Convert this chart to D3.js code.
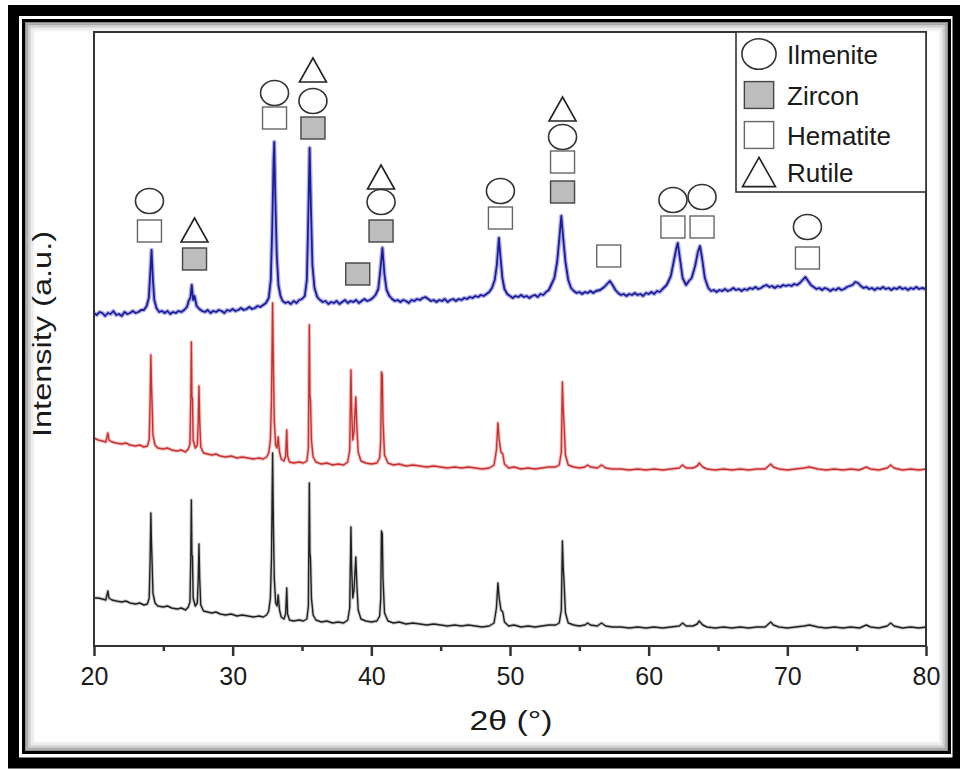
<!DOCTYPE html>
<html>
<head>
<meta charset="UTF-8">
<title>XRD patterns</title>
<script src="https://cdn.jsdelivr.net/npm/d3@7"></script>
<style>
  body { margin: 0; background: #fff; }
  text { font-family: "Liberation Sans", Arial, sans-serif; fill: #1a1a1a; }
</style>
</head>
<body>
<script>
// 2theta sampling + intensities (a.u.)
var blueTheta = [20.0,20.2,20.4,20.6,20.8,21.0,21.2,21.4,21.6,21.8,22.0,22.2,22.4,22.6,22.8,23.0,23.2,23.4,23.6,23.8,23.95,24.05,24.15,24.25,24.35,24.5,24.7,24.9,25.1,25.3,25.5,25.7,25.9,26.1,26.3,26.5,26.7,26.85,26.95,27.05,27.15,27.25,27.4,27.6,27.8,28.0,28.2,28.4,28.6,28.8,29.0,29.2,29.4,29.6,29.8,30.0,30.2,30.4,30.6,30.8,31.0,31.2,31.4,31.6,31.8,32.0,32.2,32.4,32.6,32.75,32.85,32.95,33.0,33.08,33.18,33.3,33.45,33.6,33.8,34.0,34.2,34.4,34.6,34.8,35.0,35.2,35.35,35.45,35.55,35.65,35.75,35.9,36.1,36.3,36.5,36.7,36.9,37.1,37.3,37.5,37.7,37.9,38.1,38.3,38.5,38.7,38.9,39.1,39.3,39.5,39.7,39.9,40.1,40.3,40.5,40.65,40.8,40.95,41.1,41.3,41.5,41.7,41.9,42.1,42.3,42.5,42.7,42.9,43.1,43.3,43.5,43.7,43.9,44.1,44.3,44.5,44.7,44.9,45.1,45.3,45.5,45.7,45.9,46.1,46.3,46.5,46.7,46.9,47.1,47.3,47.5,47.7,47.9,48.1,48.3,48.5,48.7,48.9,49.05,49.2,49.3,49.45,49.6,49.8,50.0,50.2,50.4,50.6,50.8,51.0,51.2,51.4,51.6,51.8,52.0,52.2,52.4,52.6,52.8,53.0,53.2,53.4,53.55,53.7,53.85,54.0,54.2,54.4,54.6,54.8,55.0,55.2,55.4,55.6,55.8,56.0,56.2,56.5,56.8,57.0,57.2,57.4,57.6,57.8,58.0,58.2,58.4,58.6,58.8,59.0,59.2,59.4,59.6,59.8,60.0,60.2,60.4,60.6,60.8,61.0,61.3,61.6,61.8,62.0,62.1,62.25,62.45,62.7,62.9,63.1,63.35,63.55,63.7,63.85,64.05,64.3,64.5,64.7,64.9,65.1,65.3,65.5,65.7,65.9,66.1,66.3,66.5,66.7,66.9,67.1,67.3,67.5,67.7,67.9,68.1,68.3,68.5,68.7,68.9,69.1,69.3,69.5,69.7,69.9,70.1,70.3,70.5,70.7,70.9,71.1,71.3,71.5,71.7,71.9,72.1,72.3,72.5,72.7,72.9,73.1,73.3,73.5,73.7,73.9,74.1,74.3,74.5,74.7,74.9,75.1,75.3,75.5,75.7,75.9,76.1,76.3,76.5,76.7,76.9,77.1,77.3,77.5,77.7,77.9,78.1,78.3,78.5,78.7,78.9,79.1,79.3,79.5,79.7,80.0];
var blueI = [333,331,334,333,330,333,332,335,331,332,330,334,332,333,335,333,334,336,336,340,348,371,396,366,346,338,334,335,333,335,332,334,333,335,334,336,339,346,348,361,346,350,340,337,335,334,336,333,335,334,336,335,333,336,335,337,335,336,338,336,337,339,337,338,340,339,341,343,348,366,416,486,504,446,391,361,350,345,343,344,342,345,343,346,347,350,366,426,498,436,381,358,349,346,344,345,342,344,343,345,342,344,346,343,345,344,346,343,345,347,345,346,348,351,357,376,398,371,356,350,347,345,346,344,346,345,343,346,345,347,346,348,349,347,345,346,344,346,345,347,344,346,347,345,347,346,348,347,349,348,350,349,351,350,352,354,358,366,381,408,391,368,357,352,350,348,350,349,351,349,350,348,350,351,349,352,351,354,356,362,368,384,406,430,406,384,366,358,355,353,354,352,354,353,355,353,355,356,359,362,365,361,356,353,351,352,350,352,351,353,351,352,350,353,352,354,352,355,354,357,361,370,384,398,403,388,368,361,365,368,380,394,400,388,368,358,355,356,354,356,355,357,355,356,358,356,357,355,357,356,358,357,359,357,358,360,361,359,360,358,360,359,361,360,361,360,362,361,363,366,369,365,361,359,357,358,356,358,357,355,357,356,358,356,357,359,360,361,364,363,360,358,359,357,358,356,358,357,359,357,358,356,358,357,359,357,358,356,358,357,359,357,358,357];

var rbTheta = [20.0,20.3,20.6,20.85,20.95,21.0,21.08,21.3,21.6,22.0,22.3,22.6,23.0,23.3,23.6,23.85,23.98,24.05,24.1,24.14,24.18,24.25,24.4,24.6,25.0,25.3,25.6,26.0,26.3,26.6,26.8,26.92,26.98,27.02,27.06,27.1,27.15,27.3,27.45,27.52,27.57,27.62,27.7,27.9,28.2,28.5,28.8,29.1,29.5,29.9,30.3,30.7,31.1,31.5,31.9,32.2,32.45,32.6,32.72,32.8,32.88,32.94,33.0,33.1,33.2,33.28,33.38,33.5,33.7,33.82,33.9,33.96,34.1,34.4,34.8,35.1,35.35,35.46,35.53,35.57,35.61,35.68,35.8,36.0,36.4,36.8,37.2,37.6,38.0,38.3,38.44,38.53,38.58,38.66,38.75,38.88,38.95,39.05,39.25,39.6,40.0,40.4,40.6,40.68,40.73,40.79,40.84,40.95,41.2,41.6,42.0,42.5,43.0,43.5,44.0,44.5,45.0,45.5,46.0,46.5,47.0,47.5,48.0,48.5,48.85,49.02,49.13,49.22,49.35,49.48,49.6,49.9,50.3,50.8,51.3,51.8,52.3,52.8,53.3,53.55,53.7,53.78,53.84,53.9,54.0,54.2,54.6,55.0,55.4,55.6,55.8,56.3,56.6,56.9,57.4,58.0,58.6,59.2,59.8,60.4,61.0,61.6,62.2,62.45,62.7,63.2,63.5,63.65,63.9,64.2,64.8,65.4,66.0,66.6,67.2,67.8,68.4,68.8,69.0,69.4,70.0,70.6,71.2,71.6,72.2,72.8,73.4,74.0,74.6,75.2,75.7,76.0,76.6,77.2,77.45,77.7,78.3,78.9,79.5,80.0];
var redI = [208,206,205,204,210,213,206,204,203,202,203,201,200,201,199,200,206,246,291,263,246,211,201,198,197,198,196,195,196,194,197,202,246,304,249,248,206,198,201,226,260,226,199,193,192,191,192,190,189,190,188,189,188,187,188,187,189,193,206,246,343,276,226,201,198,209,194,187,185,190,216,190,184,183,184,183,185,198,321,251,246,206,189,184,182,183,181,182,181,184,196,276,236,206,214,249,221,194,185,183,182,183,188,206,274,271,226,191,183,181,182,180,181,180,179,180,179,178,179,178,179,178,177,178,181,196,223,206,194,192,182,178,179,177,178,177,178,179,179,181,194,264,236,221,191,181,179,178,179,181,179,178,181,178,177,177,176,177,176,177,176,177,178,181,178,178,180,183,179,177,176,177,176,177,176,177,177,182,179,177,176,177,178,179,177,176,177,176,177,176,179,177,176,178,181,178,176,177,176,177];
var blackI = [48,48,47,46,52,55,48,46,45,44,45,43,42,43,41,42,48,88,133,105,88,53,43,40,39,40,38,37,38,36,39,44,88,146,91,90,48,40,43,68,102,68,41,35,34,33,34,32,31,32,30,31,30,29,30,29,31,35,48,88,193,118,68,43,40,51,36,29,27,32,58,32,26,25,26,25,27,40,163,93,88,48,31,26,24,25,23,24,23,26,38,119,78,48,56,89,63,36,27,25,24,25,30,48,115,112,68,33,25,23,24,22,23,22,21,22,21,20,21,20,21,20,19,20,23,38,63,48,36,34,24,20,21,19,20,19,20,21,21,23,36,105,78,63,33,23,21,20,21,23,21,20,23,20,19,19,18,19,18,19,18,19,20,23,20,20,22,25,21,19,18,19,18,19,18,19,19,24,21,19,18,19,20,21,19,18,19,18,19,18,21,19,18,20,23,20,18,19,18,19];

// phase markers placed above the top pattern
var markerTheta = [24.0,24.0,27.25,27.25,33.02,33.02,35.79,35.79,35.79,39.02,40.7,40.7,40.7,49.31,49.31,53.79,53.79,53.79,53.79,57.12,61.75,61.75,63.85,63.85,71.45,71.45];
var markerI = [445,415,416,387,553,528,576,545,518,372,469,444,415,455,428,537,509,484,454,390,446,419,449,419,419,388];
var markerKind = ["Ilmenite","Hematite","Rutile","Zircon","Ilmenite","Hematite","Rutile","Ilmenite","Zircon","Zircon","Rutile","Ilmenite","Zircon","Ilmenite","Hematite","Rutile","Ilmenite","Hematite","Zircon","Hematite","Ilmenite","Hematite","Ilmenite","Hematite","Ilmenite","Hematite"];

var phases = ["Ilmenite","Zircon","Hematite","Rutile"];
var xTicks = [20,30,40,50,60,70,80];
var xMinor = [25,35,45,55,65,75];

var W = 960, H = 769;
var plot = {left: 94, right: 926, top: 32, bottom: 646};

var svg = d3.select("body").append("svg")
    .attr("width", W)
    .attr("height", H);

// picture frame: thick black border, white gap, thin line, inner shadow
svg.append("rect").attr("x", 13.5).attr("y", 10.5).attr("width", 944.5).attr("height", 752.5)
    .attr("fill", "none").attr("stroke", "#000").attr("stroke-width", 11);
svg.append("rect").attr("x", 23.5).attr("y", 20.5).attr("width", 926).attr("height", 732)
    .attr("fill", "none").attr("stroke", "#000").attr("stroke-width", 3);
var shade = ["#8a8a8a","#a8a8a8","#c4c4c4","#dadada","#ebebeb","#f6f6f6"];
shade.forEach(function(c, i){
  svg.append("rect")
    .attr("x", 25.8 + i*1.6).attr("y", 22.8 + i*1.6)
    .attr("width", 921.4 - i*3.2).attr("height", 727.4 - i*3.2)
    .attr("fill", "none").attr("stroke", c).attr("stroke-width", 1.6);
});

var x = d3.scaleLinear().domain([20, 80]).range([plot.left, plot.right]);
var y = d3.scaleLinear().domain([0, 614]).range([plot.bottom, plot.top]);

var line = d3.line()
    .x(function(d){ return x(d[0]); })
    .y(function(d){ return y(d[1]); });

function pairs(th, vals){ return th.map(function(t, i){ return [t, vals[i]]; }); }

var series = [
  {data: pairs(rbTheta, blackI), halo: "#b8b8b8", color: "#202020", w: 1.4, hw: 3.4},
  {data: pairs(rbTheta, redI), halo: "#f2a0a0", color: "#c63232", w: 1.4, hw: 3.4},
  {data: pairs(blueTheta, blueI), halo: "#8f92dc", color: "#1c1c9a", w: 1.8, hw: 4.4}
];

var g = svg.append("g");
series.forEach(function(s){
  g.append("path").datum(s.data).attr("d", line)
    .attr("fill", "none").attr("stroke", s.halo).attr("stroke-width", s.hw)
    .attr("stroke-opacity", 0.7).attr("stroke-linejoin", "round");
  g.append("path").datum(s.data).attr("d", line)
    .attr("fill", "none").attr("stroke", s.color).attr("stroke-width", s.w)
    .attr("stroke-linejoin", "round");
});

// marker shapes
function drawMarker(sel, kind, cx, cy, s){
  if (kind === "Ilmenite") {
    sel.append("ellipse").attr("cx", cx).attr("cy", cy)
      .attr("rx", 14*s).attr("ry", 12.5*s)
      .attr("fill", "#fff").attr("stroke", "#333").attr("stroke-width", 1.6);
  } else if (kind === "Zircon" || kind === "Hematite") {
    sel.append("rect").attr("x", cx - 12*s).attr("y", cy - 11*s)
      .attr("width", 24*s).attr("height", 22*s)
      .attr("fill", kind === "Zircon" ? "#bdbdbd" : "#fff")
      .attr("stroke", kind === "Zircon" ? "#444" : "#666").attr("stroke-width", 1.4);
  } else {
    var w = 13.5*s, h = 12*s;
    sel.append("path")
      .attr("d", "M" + (cx - w) + "," + (cy + h) + "L" + cx + "," + (cy - h) + "L" + (cx + w) + "," + (cy + h) + "Z")
      .attr("fill", "#fff").attr("stroke", "#222").attr("stroke-width", 1.6)
      .attr("stroke-linejoin", "miter");
  }
}

var mg = svg.append("g");
markerTheta.forEach(function(t, i){
  drawMarker(mg, markerKind[i], x(t), y(markerI[i]), 1);
});

// axes box
svg.append("rect").attr("x", plot.left).attr("y", plot.top)
  .attr("width", plot.right - plot.left).attr("height", plot.bottom - plot.top)
  .attr("fill", "none").attr("stroke", "#333").attr("stroke-width", 2);

var xAxis = svg.append("g")
  .attr("transform", "translate(0," + plot.bottom + ")")
  .call(d3.axisBottom(x).tickValues(xTicks).tickSize(10).tickPadding(11).tickFormat(d3.format("d")));
xAxis.select(".domain").remove();
xAxis.selectAll(".tick line").attr("stroke", "#333").attr("stroke-width", 2.5);
xAxis.selectAll(".tick text").style("font-size", "25px").attr("fill", "#1a1a1a")
  .style("font-family", "'Liberation Sans', Arial, sans-serif");

var xMinorAxis = svg.append("g")
  .attr("transform", "translate(0," + plot.bottom + ")")
  .call(d3.axisBottom(x).tickValues(xMinor).tickSize(5).tickFormat(""));
xMinorAxis.select(".domain").remove();
xMinorAxis.selectAll(".tick line").attr("stroke", "#333").attr("stroke-width", 2.5);

// axis titles
svg.append("text")
  .attr("x", 511).attr("y", 730)
  .attr("text-anchor", "middle").style("font-size", "27px")
  .attr("textLength", 83).attr("lengthAdjust", "spacingAndGlyphs")
  .text("2θ (°)");

svg.append("text")
  .attr("transform", "translate(51,334) rotate(-90)")
  .attr("text-anchor", "middle").style("font-size", "25px")
  .attr("textLength", 206).attr("lengthAdjust", "spacingAndGlyphs")
  .text("Intensity (a.u.)");

// legend
var lg = svg.append("g");
lg.append("rect").attr("x", 736).attr("y", plot.top).attr("width", plot.right - 736).attr("height", 160)
  .attr("fill", "#fff").attr("stroke", "#333").attr("stroke-width", 1.6);
var legY = [54, 95, 135, 172];
phases.forEach(function(p, i){
  drawMarker(lg, p, 759, legY[i], 1.22);
  lg.append("text").attr("x", 787).attr("y", legY[i] + 10)
    .style("font-size", "26px").text(p);
});
</script>
</body>
</html>
